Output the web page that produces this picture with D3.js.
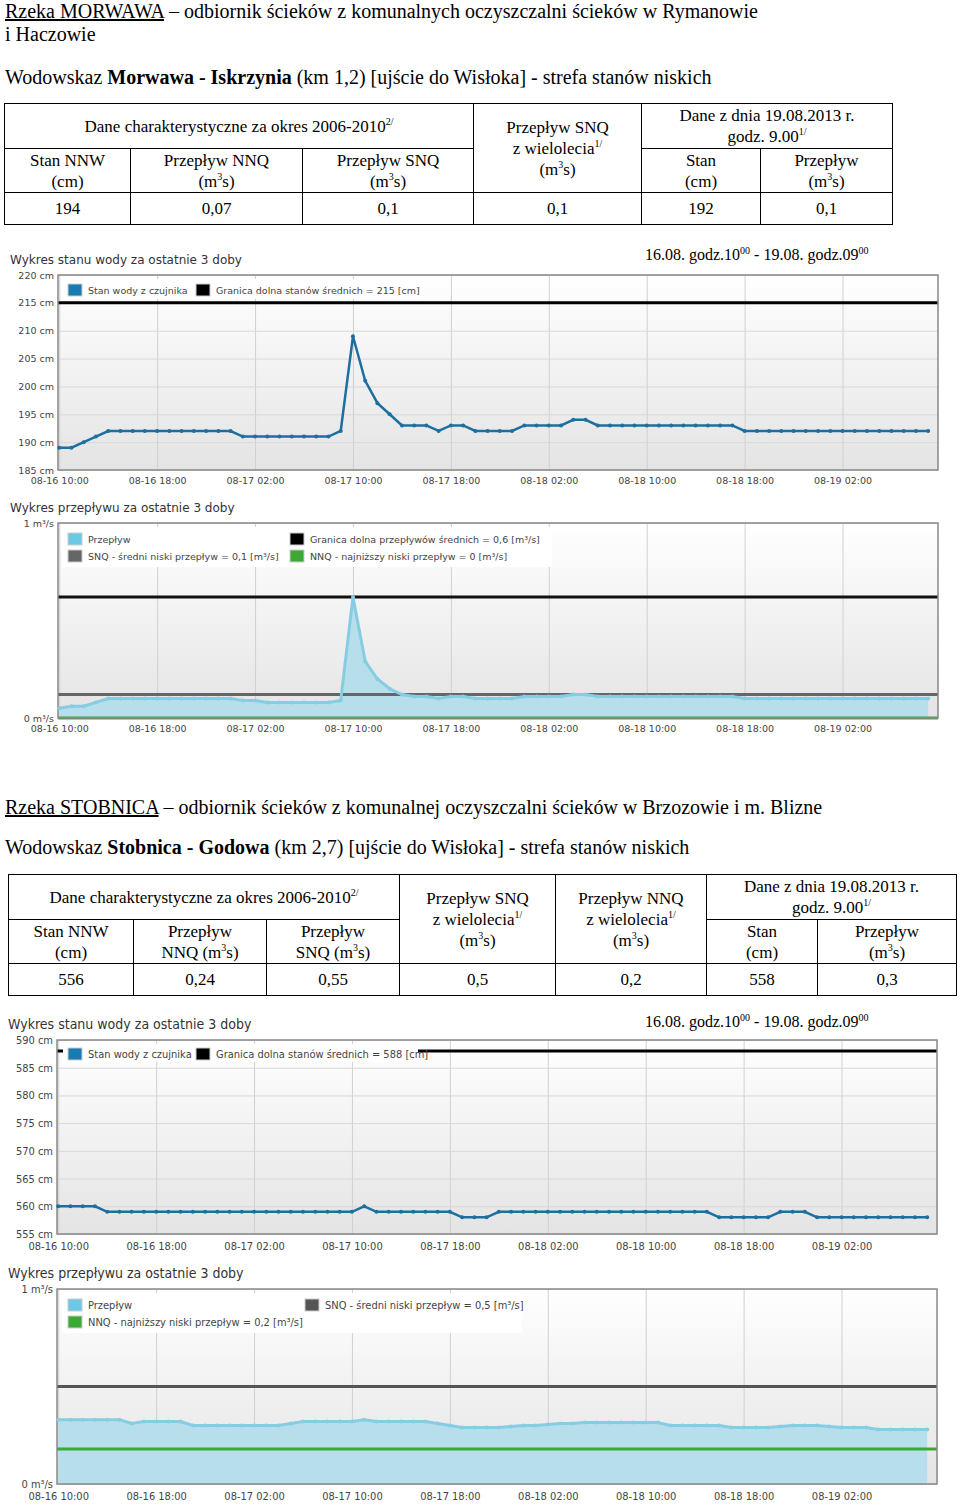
<!DOCTYPE html>
<html><head><meta charset="utf-8">
<script src="https://cdn.jsdelivr.net/npm/d3@7"></script>
<style>
body{margin:0;width:960px;height:1507px;position:relative;background:#fff;font-family:"Liberation Serif","Times New Roman",serif;color:#000;overflow:hidden}
.t{position:absolute;font-size:20px;white-space:nowrap}
table{position:absolute;border-collapse:collapse;font-size:17px}
td{border:1.5px solid #000;text-align:center;padding:0;line-height:21px}
sup{font-size:10px;line-height:0}
#c{position:absolute;left:0;top:0}
</style></head><body>
<svg id="c" width="960" height="1507"></svg>
<div class="t" style="left:5px;top:0px"><u>Rzeka MORWAWA</u> – odbiornik ścieków z komunalnych oczyszczalni ścieków w Rymanowie<br>i Haczowie</div>
<div class="t" style="left:5px;top:66px">Wodowskaz <b>Morwawa - Iskrzynia</b> (km 1,2) [ujście do Wisłoka] - strefa stanów niskich</div>
<table style="left:4px;top:103px;width:889px;height:122px">
<tr style="height:45px"><td colspan="3" style="border-bottom:none">Dane charakterystyczne za okres 2006-2010<sup>2/</sup></td><td rowspan="2" style="width:167px">Przepływ SNQ<br>z wielolecia<sup>1/</sup><br>(m<sup>3</sup>s)</td><td colspan="2" style="border-bottom:none">Dane z dnia 19.08.2013 r.<br>godz. 9.00<sup>1/</sup></td></tr>
<tr style="height:44px"><td style="width:125px">Stan NNW<br>(cm)</td><td style="width:171px">Przepływ NNQ<br>(m<sup>3</sup>s)</td><td style="width:170px">Przepływ SNQ<br>(m<sup>3</sup>s)</td><td style="width:118px">Stan<br>(cm)</td><td>Przepływ<br>(m<sup>3</sup>s)</td></tr>
<tr><td>194</td><td>0,07</td><td>0,1</td><td>0,1</td><td>192</td><td>0,1</td></tr>
</table>
<div class="t" style="left:645px;top:246px;font-size:16px">16.08. godz.10<sup>00</sup> - 19.08. godz.09<sup>00</sup></div>

<div class="t" style="left:5px;top:796px"><u>Rzeka STOBNICA</u> – odbiornik ścieków z komunalnej oczyszczalni ścieków w Brzozowie i m. Blizne</div>
<div class="t" style="left:5px;top:836px">Wodowskaz <b>Stobnica - Godowa</b> (km 2,7) [ujście do Wisłoka] - strefa stanów niskich</div>
<table style="left:8px;top:874px;width:949px;height:122px">
<tr style="height:45px"><td colspan="3" style="border-bottom:none">Dane charakterystyczne za okres 2006-2010<sup>2/</sup></td><td rowspan="2" style="width:155px">Przepływ SNQ<br>z wielolecia<sup>1/</sup><br>(m<sup>3</sup>s)</td><td rowspan="2" style="width:150px">Przepływ NNQ<br>z wielolecia<sup>1/</sup><br>(m<sup>3</sup>s)</td><td colspan="2" style="border-bottom:none">Dane z dnia 19.08.2013 r.<br>godz. 9.00<sup>1/</sup></td></tr>
<tr style="height:44px"><td style="width:124px">Stan NNW<br>(cm)</td><td style="width:132px">Przepływ<br>NNQ (m<sup>3</sup>s)</td><td style="width:132px">Przepływ<br>SNQ (m<sup>3</sup>s)</td><td style="width:110px">Stan<br>(cm)</td><td>Przepływ<br>(m<sup>3</sup>s)</td></tr>
<tr><td>556</td><td>0,24</td><td>0,55</td><td>0,5</td><td>0,2</td><td>558</td><td>0,3</td></tr>
</table>
<div class="t" style="left:645px;top:1013px;font-size:16px">16.08. godz.10<sup>00</sup> - 19.08. godz.09<sup>00</sup></div>

<script>
const tickLabels=["08-16 10:00","08-16 18:00","08-17 02:00","08-17 10:00","08-17 18:00","08-18 02:00","08-18 10:00","08-18 18:00","08-19 02:00"];
const tickHours=[0,8,16,24,32,40,48,56,64];
const stage1=[189,189,190,191,192,192,192,192,192,192,192,192,192,192,192,191,191,191,191,191,191,191,191,192,209,201,197,195,193,193,193,192,193,193,192,192,192,192,193,193,193,193,194,194,193,193,193,193,193,193,193,193,193,193,193,193,192,192,192,192,192,192,192,192,192,192,192,192,192,192,192,192];
const flow1=[0.05,0.06,0.06,0.08,0.1,0.1,0.1,0.1,0.1,0.1,0.1,0.1,0.1,0.1,0.1,0.09,0.09,0.08,0.08,0.08,0.08,0.08,0.08,0.09,0.62,0.29,0.2,0.15,0.12,0.11,0.11,0.1,0.11,0.11,0.1,0.1,0.1,0.1,0.11,0.11,0.11,0.11,0.12,0.12,0.11,0.11,0.11,0.11,0.11,0.11,0.11,0.11,0.11,0.11,0.11,0.11,0.1,0.1,0.1,0.1,0.1,0.1,0.1,0.1,0.1,0.1,0.1,0.1,0.1,0.1,0.1,0.1];
const stage2=[560,560,560,560,559,559,559,559,559,559,559,559,559,559,559,559,559,559,559,559,559,559,559,559,559,560,559,559,559,559,559,559,559,558,558,558,559,559,559,559,559,559,559,559,559,559,559,559,559,559,559,559,559,559,558,558,558,558,558,559,559,559,558,558,558,558,558,558,558,558,558,558];
const flow2=[0.33,0.33,0.33,0.33,0.33,0.33,0.31,0.32,0.32,0.32,0.32,0.3,0.3,0.3,0.3,0.3,0.3,0.3,0.3,0.31,0.32,0.32,0.32,0.32,0.32,0.33,0.32,0.32,0.32,0.32,0.32,0.31,0.3,0.29,0.29,0.29,0.29,0.295,0.3,0.3,0.305,0.31,0.31,0.315,0.315,0.315,0.315,0.315,0.315,0.315,0.3,0.3,0.3,0.3,0.3,0.29,0.29,0.29,0.29,0.295,0.3,0.3,0.3,0.295,0.29,0.29,0.29,0.28,0.28,0.28,0.28,0.28];

const root=d3.select("#c");
const gr=root.append("defs").append("linearGradient").attr("id","bg").attr("x1",0).attr("x2",0).attr("y1",0).attr("y2",1);
gr.append("stop").attr("offset",0).attr("stop-color","#fff");gr.append("stop").attr("offset",1).attr("stop-color","#e4e4e4");

function chart(o){
  const svg=root.append("g");
  const top=o.pt, bot=o.pb, L=o.L, R=o.R;
  const x=d3.scaleLinear().domain([-0.1,71.8]).range([L,R]);
  const y=d3.scaleLinear().domain(o.dom).range([bot,top]);
  svg.append("rect").attr("x",L).attr("y",top).attr("width",R-L).attr("height",bot-top).attr("fill","url(#bg)");
  const font=o.cond?"'Liberation Sans Narrow','DejaVu Sans Condensed',sans-serif":"'DejaVu Sans',sans-serif";
  const fs=o.cond?11:9.5;
  svg.append("text").attr("x",o.cond?8:10).attr("y",top-11).text(o.title).attr("font-family",font).attr("font-size",o.cond?14:12).attr("fill","#333");
  const gx=svg.append("g").attr("transform",`translate(0,${bot})`).call(d3.axisBottom(x).tickValues(tickHours).tickFormat((d,i)=>tickLabels[i]).tickSize(-(bot-top)));
  gx.select(".domain").remove();
  gx.selectAll("line").attr("stroke","#d0d0d0");
  gx.selectAll("text").attr("font-family",font).attr("font-size",fs).attr("fill","#444").attr("dy","1.2em");
  const gy=svg.append("g").attr("transform",`translate(${L},0)`).call(d3.axisLeft(y).tickValues(o.yt).tickFormat(o.yf).tickSize(-(R-L)));
  gy.select(".domain").remove();
  gy.selectAll("line").attr("stroke","#d8d8d8");
  gy.selectAll("text").attr("font-family",font).attr("font-size",fs).attr("fill","#444").attr("x",-4);
  if(o.area){
    svg.append("path").datum(o.data).attr("d",d3.area().x((d,i)=>x(i)).y0(y(0)).y1(d=>y(d))).attr("fill","#b6dfeb");
  }
  (o.refs||[]).forEach(r=>svg.append("line").attr("x1",L).attr("x2",R).attr("y1",y(r.v)).attr("y2",y(r.v)).attr("stroke",r.c).attr("stroke-width",3));
  svg.append("rect").attr("x",L).attr("y",top).attr("width",R-L).attr("height",bot-top).attr("fill","none").attr("stroke","#888").attr("stroke-width",1.5);
  const col=o.area?"#86cde3":"#1c6f9e";
  svg.append("path").datum(o.data).attr("d",d3.line().x((d,i)=>x(i)).y(d=>y(d))).attr("fill","none").attr("stroke",col).attr("stroke-width",o.area?3:2.5);
  svg.selectAll(null).data(o.data).join("circle").attr("cx",(d,i)=>x(i)).attr("cy",d=>y(d)).attr("r",2).attr("fill",col);
  const lg=svg.append("g");
  lg.append("rect").attr("x",o.lg.x).attr("y",o.lg.y).attr("width",o.lg.w).attr("height",o.lg.h).attr("fill","#fff");
  o.lg.items.forEach(it=>{
    lg.append("rect").attr("x",it[0]).attr("y",it[1]-9).attr("width",14).attr("height",12).attr("fill",it[2]).attr("stroke","#ccc");
    lg.append("text").attr("x",it[0]+20).attr("y",it[1]+1).text(it[3]).attr("font-family",font).attr("font-size",fs).attr("fill","#444");
  });
}
chart({pt:275,pb:470,L:58,R:938,dom:[185,220],yt:[185,190,195,200,205,210,215,220],yf:d=>d+" cm",title:"Wykres stanu wody za ostatnie 3 doby",
  data:stage1,refs:[{v:215,c:"#000"}],
  lg:{x:62,y:279,w:360,h:20,items:[[68,293,"#1a7bb3","Stan wody z czujnika"],[196,293,"#000","Granica dolna stanów średnich = 215 [cm]"]]}});
chart({pt:523,pb:718,L:58,R:938,dom:[0,1],yt:[0,1],yf:d=>d+" m³/s",title:"Wykres przepływu za ostatnie 3 doby",area:true,
  data:flow1,refs:[{v:0.62,c:"#111"},{v:0.12,c:"#666"},{v:0,c:"#3aaa35"}],
  lg:{x:62,y:527,w:490,h:40,items:[[68,542,"#6cc8e4","Przepływ"],[290,542,"#000","Granica dolna przepływów średnich = 0,6 [m³/s]"],[68,559,"#666","SNQ - średni niski przepływ = 0,1 [m³/s]"],[290,559,"#3aaa35","NNQ - najniższy niski przepływ = 0 [m³/s]"]]}});
chart({pt:1040,pb:1234,L:57,R:937,dom:[555,590],yt:[555,560,565,570,575,580,585,590],yf:d=>d+" cm",title:"Wykres stanu wody za ostatnie 3 doby",cond:true,
  data:stage2,refs:[{v:588,c:"#000"}],
  lg:{x:63,y:1044,w:355,h:18,items:[[68,1057,"#1a7bb3","Stan wody z czujnika"],[196,1057,"#000","Granica dolna stanów średnich = 588 [cm]"]]}});
chart({pt:1289,pb:1484,L:57,R:937,dom:[0,1],yt:[0,1],yf:d=>d+" m³/s",title:"Wykres przepływu za ostatnie 3 doby",cond:true,area:true,
  data:flow2,refs:[{v:0.5,c:"#555"},{v:0.18,c:"#3aaa35"}],
  lg:{x:62,y:1293,w:460,h:40,items:[[68,1308,"#6cc8e4","Przepływ"],[305,1308,"#555","SNQ - średni niski przepływ = 0,5 [m³/s]"],[68,1325,"#3aaa35","NNQ - najniższy niski przepływ = 0,2 [m³/s]"]]}});
</script>
</body></html>
